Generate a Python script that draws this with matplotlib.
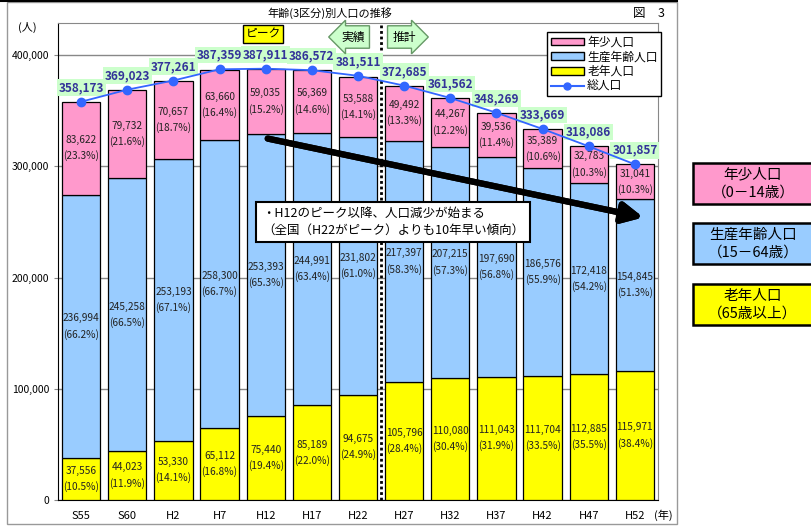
import matplotlib
matplotlib.use('Agg')
import matplotlib.pyplot as plt
import numpy as np
from matplotlib.patches import Rectangle
from matplotlib.lines import Line2D

plt.rcParams['font.family'] = ['Noto Sans CJK JP', 'DejaVu Sans']

# データ（年齢3区分別人口）
years = ['S55', 'S60', 'H2', 'H7', 'H12', 'H17', 'H22',
         'H27', 'H32', 'H37', 'H42', 'H47', 'H52']
young = [83622, 79732, 70657, 63660, 59035, 56369, 53588,
         49492, 44267, 39536, 35389, 32783, 31041]
young_pct = [23.3, 21.6, 18.7, 16.4, 15.2, 14.6, 14.1,
             13.3, 12.2, 11.4, 10.6, 10.3, 10.3]
working = [236994, 245258, 253193, 258300, 253393, 244991, 231802,
           217397, 207215, 197690, 186576, 172418, 154845]
working_pct = [66.2, 66.5, 67.1, 66.7, 65.3, 63.4, 61.0,
               58.3, 57.3, 56.8, 55.9, 54.2, 51.3]
old = [37556, 44023, 53330, 65112, 75440, 85189, 94675,
       105796, 110080, 111043, 111704, 112885, 115971]
old_pct = [10.5, 11.9, 14.1, 16.8, 19.4, 22.0, 24.9,
           28.4, 30.4, 31.9, 33.5, 35.5, 38.4]
total = [358173, 369023, 377261, 387359, 387911, 386572, 381511,
         372685, 361562, 348269, 333669, 318086, 301857]

PINK = '#ff99cc'
BLUE = '#99ccff'
YELLOW = '#ffff00'
LINE = '#3366ff'

W, H = 812, 526


def fx(px):
    return px / W


def fy(py):
    return 1 - py / H


fig = plt.figure(figsize=(8.12, 5.26), dpi=100)
ax = fig.add_axes([fx(58), fy(500), fx(658) - fx(58), fy(23) - fy(500)])

x = np.arange(len(years))
old_a = np.array(old)
work_a = np.array(working)
young_a = np.array(young)
bw = 0.83

ax.bar(x, old_a, bw, color=YELLOW, edgecolor='black', linewidth=0.9, zorder=3)
ax.bar(x, work_a, bw, bottom=old_a, color=BLUE, edgecolor='black', linewidth=0.9, zorder=3)
ax.bar(x, young_a, bw, bottom=old_a + work_a, color=PINK, edgecolor='black', linewidth=0.9, zorder=3)
ax.plot(x, total, color=LINE, marker='o', markersize=6, linewidth=1.3, zorder=8)

# 各区分のラベル
for i in range(len(years)):
    segs = [(old_a[i] / 2, old[i], old_pct[i]),
            (old_a[i] + work_a[i] / 2, working[i], working_pct[i]),
            (old_a[i] + work_a[i] + young_a[i] / 2, young[i], young_pct[i])]
    for yc, v, p in segs:
        ax.text(x[i], yc, f'{v:,}\n({p:.1f}%)', ha='center', va='center',
                fontsize=7.3, linespacing=1.6, color='#222222', zorder=6)
    ax.annotate(f'{total[i]:,}', (x[i], total[i]), xytext=(0, 5.5),
                textcoords='offset points', ha='center', va='bottom',
                fontsize=8.5, fontweight='bold', color='#333399', zorder=7,
                bbox=dict(boxstyle='square,pad=0.15', fc='#ccffcc', ec='none'))

ax.axvline(6.5, color='black', linestyle=(0, (1, 1)), linewidth=2, zorder=4)

ax.set_xlim(-0.5, len(years) - 0.5)
ax.set_ylim(0, 429000)
ax.set_yticks(np.arange(0, 400001, 100000))
ax.set_yticklabels([f'{v:,}' for v in range(0, 400001, 100000)], fontsize=7.5)
ax.set_xticks(x)
ax.set_xticklabels(years, fontsize=8)
ax.tick_params(axis='both', length=3, color='#888888')
ax.tick_params(axis='x', length=0, pad=8)
ax.grid(axis='y', color='#888888', linewidth=1, zorder=0)
for s in ax.spines.values():
    s.set_color('#888888')
ax.spines['left'].set_color('black')
ax.spines['bottom'].set_color('black')

# 凡例
handles = [Rectangle((0, 0), 1, 1, fc=PINK, ec='black'),
           Rectangle((0, 0), 1, 1, fc=BLUE, ec='black'),
           Rectangle((0, 0), 1, 1, fc=YELLOW, ec='black'),
           Line2D([], [], color=LINE, marker='o', markersize=5)]
leg = fig.legend(handles, ['年少人口', '生産年齢人口', '老年人口', '総人口'],
                 loc='upper left', bbox_to_anchor=(fx(547), fy(32)),
                 fontsize=8.5, frameon=True, fancybox=False, borderpad=0.3,
                 labelspacing=0.15, handlelength=2.8, handleheight=0.6,
                 handletextpad=0.3, borderaxespad=0, framealpha=1)
leg.get_frame().set_edgecolor('black')
leg.get_frame().set_linewidth(1)

# 文字
fig.text(fx(330), fy(13), '年齢(3区分)別人口の推移', ha='center', va='center', fontsize=8)
fig.text(fx(665), fy(14), '図　3', ha='right', va='center', fontsize=9)
fig.text(fx(27), fy(27), '(人)', ha='center', va='center', fontsize=8)
fig.text(fx(663), fy(515), '(年)', ha='center', va='center', fontsize=8)

fig.text(fx(263), fy(34), 'ピーク', ha='center', va='center', fontsize=8.5,
         bbox=dict(boxstyle='square,pad=0.2', fc='#ffff00', ec='black', lw=1))
fig.text(fx(353), fy(37), '実績', ha='center', va='center', fontsize=8.5,
         bbox=dict(boxstyle='larrow,pad=0.4', fc='#ccffcc', ec='#669966', lw=1))
fig.text(fx(404), fy(37), '推計', ha='center', va='center', fontsize=8.5,
         bbox=dict(boxstyle='rarrow,pad=0.4', fc='#ccffcc', ec='#669966', lw=1))

# 矢印とコメント
fig.add_artist(plt.annotate('', xy=(fx(646), fy(218)), xytext=(fx(265), fy(138)),
                            xycoords='figure fraction', textcoords='figure fraction',
                            arrowprops=dict(arrowstyle='-|>,head_length=1.2,head_width=0.6',
                                            color='black', lw=4.5)))
fig.text(fx(262), fy(222), '・H12のピーク以降、人口減少が始まる\n（全国（H22がピーク）よりも10年早い傾向）',
         ha='left', va='center', fontsize=9, linespacing=1.35, zorder=10,
         bbox=dict(boxstyle='square,pad=0.45', fc='white', ec='black', lw=1.5))

# 右側の説明ボックス
boxes = [(163, PINK, '年少人口\n（0－14歳）'),
         (223, BLUE, '生産年齢人口\n（15－64歳）'),
         (284, YELLOW, '老年人口\n（65歳以上）')]
for top, c, t in boxes:
    fig.add_artist(Rectangle((fx(693), fy(top + 41)), fx(812) - fx(693) + 0.01, 41 / H,
                             transform=fig.transFigure, fc=c, ec='black', lw=1.8))
    fig.text(fx(753), fy(top + 20.5), t, ha='center', va='center', fontsize=10.5,
             linespacing=1.3)

# 外枠
fig.add_artist(Rectangle((fx(7), fy(524)), fx(677) - fx(7), (524 - 2) / H,
                         transform=fig.transFigure, fill=False, ec='#999999', lw=1))
fig.add_artist(Line2D([0, fx(677)], [fy(1), fy(1)], transform=fig.transFigure,
                      color='black', lw=1.5))

fig.savefig('out.png', dpi=100)
